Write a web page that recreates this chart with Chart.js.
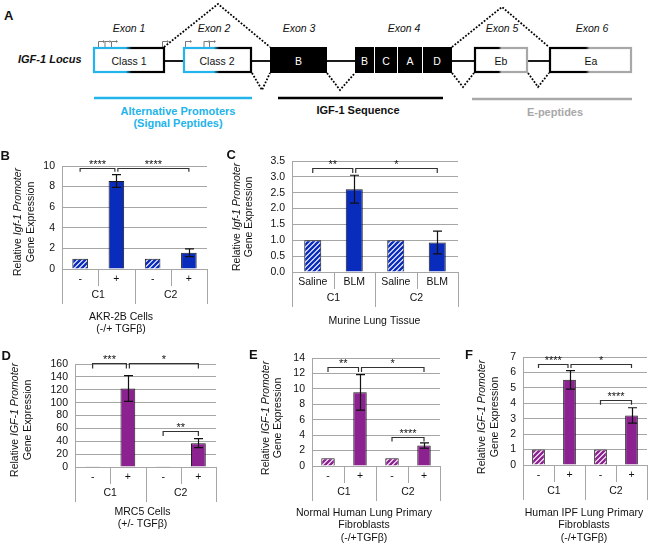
<!DOCTYPE html>
<html><head><meta charset="utf-8">
<script src="https://cdn.jsdelivr.net/npm/chart.js@4/dist/chart.umd.min.js"></script>
<style>
body{margin:0;background:#fff;width:650px;height:547px;overflow:hidden;position:relative;}
canvas{position:absolute;left:0;top:0;}
svg{position:absolute;left:0;top:0;}
</style></head><body>
<svg width="650" height="140" xmlns="http://www.w3.org/2000/svg" font-family="Liberation Sans, Arial, sans-serif">
<defs>
 <linearGradient id="gc1" x1="0" y1="0" x2="1" y2="0"><stop offset="0.45" stop-color="#22b4ea"/><stop offset="0.54" stop-color="#000"/></linearGradient>
 <linearGradient id="gc2" x1="0" y1="0" x2="1" y2="0"><stop offset="0.44" stop-color="#22b4ea"/><stop offset="0.53" stop-color="#000"/></linearGradient>
 <linearGradient id="gg5" x1="0" y1="0" x2="1" y2="0"><stop offset="0.45" stop-color="#000"/><stop offset="0.51" stop-color="#a8a8a8"/></linearGradient>
 <linearGradient id="gg6" x1="0" y1="0" x2="1" y2="0"><stop offset="0.44" stop-color="#000"/><stop offset="0.49" stop-color="#a8a8a8"/></linearGradient>
</defs>
<text x="4" y="20" font-weight="bold" font-size="13" fill="#111">A</text>
<text x="18" y="63" font-weight="bold" font-style="italic" font-size="11" fill="#111">IGF-1 Locus</text>
<g font-style="italic" font-size="10.5" fill="#111" text-anchor="middle">
 <text x="129" y="32">Exon 1</text><text x="214" y="32">Exon 2</text><text x="299" y="32">Exon 3</text>
 <text x="404" y="32">Exon 4</text><text x="502" y="32">Exon 5</text><text x="592" y="32">Exon 6</text>
</g>
<g stroke="#000" stroke-width="1.8">
 <line x1="165" y1="61" x2="183" y2="61"/><line x1="252" y1="61" x2="270" y2="61"/>
 <line x1="327" y1="61" x2="355" y2="61"/><line x1="452" y1="61" x2="474" y2="61"/>
 <line x1="528" y1="61" x2="549" y2="61"/>
</g>
<g fill="none" stroke="#000" stroke-width="1.8" stroke-dasharray="1.8 1.6">
 <polyline points="164,47 218,4 270,47"/>
 <polyline points="252,73 262,90 270,73"/>
 <polyline points="327,73 340,90 355,73"/>
 <polyline points="452,73 463,87 474,73"/>
 <polyline points="452,47 502,7 549,47"/>
 <polyline points="528,73 538,87 549,73"/>
</g>
<g stroke="#777" stroke-width="1" fill="none">
 <path d="M98.5 47V41.5H103"/><path d="M105 47V41.5H109.5"/><path d="M111.5 47V41.5H116"/><path d="M162.5 47V41.5H167"/>
 <path d="M185.5 47V41.5H190"/><path d="M204 47V41.5H208.5"/><path d="M209.5 47V41.5H214"/>
</g>
<g fill="#777">
 <path d="M103 40L105 41.5L103 43Z"/><path d="M109.5 40L111.5 41.5L109.5 43Z"/><path d="M116 40L118 41.5L116 43Z"/><path d="M167 40L169 41.5L167 43Z"/>
 <path d="M190 40L192 41.5L190 43Z"/><path d="M208.5 40L210.5 41.5L208.5 43Z"/><path d="M214 40L216 41.5L214 43Z"/>
</g>
<rect x="94" y="48" width="70" height="24" fill="#fff" stroke="url(#gc1)" stroke-width="2.2"/>
<rect x="184" y="48" width="67" height="24" fill="#fff" stroke="url(#gc2)" stroke-width="2.2"/>
<rect x="270" y="47" width="57" height="26" fill="#000"/>
<rect x="355" y="47" width="97" height="26" fill="#000"/>
<g stroke="#fff" stroke-width="1"><line x1="374.5" y1="47" x2="374.5" y2="73"/><line x1="397.5" y1="47" x2="397.5" y2="73"/><line x1="422.5" y1="47" x2="422.5" y2="73"/></g>
<rect x="475" y="48" width="52" height="24" fill="#fff" stroke="url(#gg5)" stroke-width="2.2"/>
<rect x="550" y="48" width="81" height="24" fill="#fff" stroke="url(#gg6)" stroke-width="2.2"/>
<g font-size="10.5" text-anchor="middle">
 <text x="129" y="65" fill="#111">Class 1</text><text x="217" y="65" fill="#111">Class 2</text>
 <text x="298.5" y="65" fill="#fff">B</text>
 <text x="364.5" y="65" fill="#fff">B</text><text x="386" y="65" fill="#fff">C</text><text x="410" y="65" fill="#fff">A</text><text x="437" y="65" fill="#fff">D</text>
 <text x="501" y="65" fill="#111">Eb</text><text x="591" y="65" fill="#111">Ea</text>
</g>
<line x1="94" y1="98" x2="252" y2="98" stroke="#22b4ea" stroke-width="2.5"/>
<line x1="278" y1="98" x2="443" y2="98" stroke="#000" stroke-width="2.5"/>
<line x1="472" y1="99" x2="632" y2="99" stroke="#a8a8a8" stroke-width="2.5"/>
<g font-weight="bold" font-size="11" text-anchor="middle">
 <text x="178" y="115" fill="#22b4ea">Alternative Promoters</text>
 <text x="178" y="127" fill="#22b4ea">(Signal Peptides)</text>
 <text x="358" y="113.5" fill="#111">IGF-1 Sequence</text>
 <text x="555" y="116" fill="#a8a8a8">E-peptides</text>
</g>
</svg>
<canvas id="cB" width="650" height="547"></canvas>
<canvas id="cC" width="650" height="547"></canvas>
<canvas id="cD" width="650" height="547"></canvas>
<canvas id="cE" width="650" height="547"></canvas>
<canvas id="cF" width="650" height="547"></canvas>
<script>
// ---------- DATA ----------
const CATS_TGF = ['-', '+', '-', '+'];
const CATS_BLM = ['Saline', 'BLM', 'Saline', 'BLM'];
const GROUPS = ['C1', 'C2'];
const HATCHED = [true, false, true, false];

const VAL_B = [1.0, 8.55, 1.0, 1.58];
const ERR_B = [0, 0.62, 0, 0.37];
const SIG_B = [[0, 1, 9.85, 9.45, '****'], [1, 3, 9.85, 9.45, '****']];
const AXIS_B = {max: 10, step: 2, dec: 0};

const VAL_C = [1.0, 2.61, 1.0, 0.93];
const ERR_C = [0, 0.44, 0, 0.36];
const SIG_C = [[0, 1, 3.28, 3.12, '**'], [1, 3, 3.28, 3.12, '*']];
const AXIS_C = {max: 3.5, step: 0.5, dec: 1};

const VAL_D = [1, 122, 1, 37];
const ERR_D = [0, 20, 0, 7];
const SIG_D = [[0, 1, 161, 153, '***'], [1, 3, 161, 153, '*'], [2, 3, 56.5, 48, '**']];
const AXIS_D = {max: 160, step: 20, dec: 0};

const VAL_E = [1.0, 9.55, 1.0, 2.65];
const ERR_E = [0, 2.3, 0, 0.35];
const SIG_E = [[0, 1, 12.85, 12.2, '**'], [1, 3, 12.85, 12.2, '*'], [2, 3, 3.73, 3.17, '****']];
const AXIS_E = {max: 14, step: 2, dec: 0};

const VAL_F = [1.0, 5.52, 1.0, 3.21];
const ERR_F = [0, 0.6, 0, 0.5];
const SIG_F = [[0, 1, 6.57, 6.29, '****'], [1, 3, 6.57, 6.29, '*'], [2, 3, 4.19, 3.9, '****']];
const AXIS_F = {max: 7, step: 1, dec: 0};

const YT_MOUSE = [['Relative ', false], ['Igf-1 Promoter', true]];
const YT_HUMAN = [['Relative ', false], ['IGF-1 Promoter', true]];
const YT_2 = [['Gene Expression', false]];

// ---------- STYLE / LAYOUT ----------
const FF = "'Liberation Sans', Arial, sans-serif";
const BLUE = '#0a2cbd';
const PURPLE = '#8b2290';
const GRID = '#a6a6a6';
const TXT = '#111';

function hatch(color) {
  const s = 5;
  const c = document.createElement('canvas'); c.width = s; c.height = s;
  const x = c.getContext('2d');
  x.fillStyle = '#fff'; x.fillRect(0, 0, s, s);
  x.strokeStyle = color; x.lineWidth = 2.4; x.lineCap = 'square';
  x.beginPath();
  x.moveTo(-1, s + 1); x.lineTo(s + 1, -1);
  x.moveTo(-1, 1); x.lineTo(1, -1);
  x.moveTo(s - 1, s + 1); x.lineTo(s + 1, s - 1);
  x.stroke();
  return x.createPattern(c, 'repeat');
}

function rich(ctx, segs, x, y, size) {
  let w = 0;
  segs.forEach(s => { ctx.font = (s[1] ? 'italic ' : '') + size + 'px ' + FF; w += ctx.measureText(s[0]).width; });
  let cx = x - w / 2;
  ctx.textAlign = 'left';
  segs.forEach(s => { ctx.font = (s[1] ? 'italic ' : '') + size + 'px ' + FF; ctx.fillText(s[0], cx, y); cx += ctx.measureText(s[0]).width; });
}

function makeChart(id, d, L) {
  const cv = document.getElementById(id);
  const YW = 40;
  const fills = HATCHED.map(h => h ? hatch(d.color) : d.color);
  const deco = {
    id: 'deco_' + id,
    afterDraw(chart) {
      const ctx = chart.ctx, xs = chart.scales.x, ys = chart.scales.y, a = chart.chartArea;
      const px = i => xs.getPixelForValue(i);
      const py = v => ys.getPixelForValue(v);
      ctx.save();
      // error bars
      ctx.strokeStyle = '#111'; ctx.lineWidth = 1.2;
      d.vals.forEach((v, i) => {
        if (!d.err[i]) return;
        const x = Math.round(px(i)) + 0.5, y1 = py(v + d.err[i]), y2 = py(v - d.err[i]);
        ctx.beginPath();
        ctx.moveTo(x, y1); ctx.lineTo(x, y2);
        ctx.moveTo(x - 4.5, y1); ctx.lineTo(x + 4.5, y1);
        ctx.moveTo(x - 4.5, y2); ctx.lineTo(x + 4.5, y2);
        ctx.stroke();
      });
      // brackets
      ctx.strokeStyle = '#333'; ctx.lineWidth = 1.2; ctx.fillStyle = TXT;
      d.sig.forEach(b => {
        const sharedL = d.sig.some(o => o !== b && o[1] === b[0]);
        const sharedR = d.sig.some(o => o !== b && o[0] === b[1]);
        const x1 = px(b[0]) + (sharedL ? 1.5 : 0), x2 = px(b[1]) - (sharedR ? 1.5 : 0);
        const y = Math.round(py(b[2])) + 0.5, ye = py(b[3]);
        ctx.beginPath();
        ctx.moveTo(x1, ye); ctx.lineTo(x1, y); ctx.lineTo(x2, y); ctx.lineTo(x2, ye);
        ctx.stroke();
        ctx.font = '11px ' + FF; ctx.textAlign = 'center'; ctx.textBaseline = 'alphabetic';
        ctx.fillText(b[4], (x1 + x2) / 2, y - 0.3);
      });
      // category axis (two levels)
      ctx.strokeStyle = GRID; ctx.lineWidth = 1;
      const bounds = [a.left, (px(0) + px(1)) / 2, (px(1) + px(2)) / 2, (px(2) + px(3)) / 2, a.right];
      bounds.forEach((bx, k) => {
        const x = Math.round(bx) + 0.5;
        ctx.beginPath(); ctx.moveTo(x, a.bottom); ctx.lineTo(x, a.bottom + (k % 2 === 0 ? 35 : 17)); ctx.stroke();
      });
      ctx.fillStyle = TXT; ctx.font = '10.5px ' + FF; ctx.textAlign = 'center'; ctx.textBaseline = 'middle';
      d.cats.forEach((c, i) => ctx.fillText(c, px(i), a.bottom + 10.5));
      GROUPS.forEach((g, j) => ctx.fillText(g, (px(2 * j) + px(2 * j + 1)) / 2, a.bottom + 26.5));
      // chart title lines
      d.title.forEach((t, j) => ctx.fillText(t, L.titleX, L.titleY[j]));
      // y-axis title (rotated)
      ctx.save();
      ctx.textBaseline = 'middle';
      ctx.translate(L.yTitleX[0], L.yTitleY); ctx.rotate(-Math.PI / 2);
      rich(ctx, d.ytitle, 0, 0, 10.5);
      ctx.restore();
      ctx.save();
      ctx.textBaseline = 'middle';
      ctx.translate(L.yTitleX[1], L.yTitleY); ctx.rotate(-Math.PI / 2);
      rich(ctx, YT_2, 0, 0, 10.5);
      ctx.restore();
      // panel letter
      ctx.font = 'bold 13px ' + FF; ctx.textAlign = 'left'; ctx.textBaseline = 'alphabetic';
      ctx.fillText(L.letter, L.letterXY[0], L.letterXY[1]);
      ctx.restore();
    }
  };
  new Chart(cv, {
    type: 'bar',
    data: {labels: d.cats, datasets: [{data: d.vals, backgroundColor: fills, borderColor: '#1a1a1a', borderWidth: 1,
      barPercentage: L.bp, categoryPercentage: 1}]},
    options: {
      responsive: false, animation: false, events: [],
      layout: {padding: {left: L.area[0] - YW, top: L.area[1], right: 650 - L.area[2], bottom: 547 - L.area[3]}},
      plugins: {legend: {display: false}, tooltip: {enabled: false}, title: {display: false}},
      scales: {
        x: {display: false, offset: true},
        y: {min: 0, max: d.axis.max,
          afterFit: s => { s.width = YW; },
          ticks: {stepSize: d.axis.step, autoSkip: false, maxTicksLimit: 100, padding: 7, color: TXT, font: {family: FF, size: 10.5},
            callback: v => Number(v).toFixed(d.axis.dec)},
          grid: {color: GRID, lineWidth: 1, drawTicks: false},
          border: {display: true, color: GRID, width: 1}}
      }
    },
    plugins: [deco]
  });
}

makeChart('cB', {cats: CATS_TGF, vals: VAL_B, err: ERR_B, sig: SIG_B, axis: AXIS_B, color: BLUE,
  title: ['AKR-2B Cells', '(-/+ TGFβ)'], ytitle: YT_MOUSE},
  {area: [62, 166, 207, 269], bp: 0.43, yTitleX: [18.5, 31], yTitleY: 222, titleX: 121, titleY: [317, 329], letter: 'B', letterXY: [0.5, 159.5]});
makeChart('cC', {cats: CATS_BLM, vals: VAL_C, err: ERR_C, sig: SIG_C, axis: AXIS_C, color: BLUE,
  title: ['Murine Lung Tissue'], ytitle: YT_MOUSE},
  {area: [292, 161, 458, 272], bp: 0.41, yTitleX: [237.5, 249.5], yTitleY: 217, titleX: 374.5, titleY: [321], letter: 'C', letterXY: [226.5, 159]});
makeChart('cD', {cats: CATS_TGF, vals: VAL_D, err: ERR_D, sig: SIG_D, axis: AXIS_D, color: PURPLE,
  title: ['MRC5 Cells', '(+/- TGFβ)'], ytitle: YT_HUMAN},
  {area: [75, 364, 216, 467], bp: 0.42, yTitleX: [15, 28], yTitleY: 420, titleX: 142.5, titleY: [512.5, 524], letter: 'D', letterXY: [1.5, 360]});
makeChart('cE', {cats: CATS_TGF, vals: VAL_E, err: ERR_E, sig: SIG_E, axis: AXIS_E, color: PURPLE,
  title: ['Normal Human Lung Primary', 'Fibroblasts', '(-/+TGFβ)'], ytitle: YT_HUMAN},
  {area: [312, 358, 440, 466], bp: 0.42, yTitleX: [266, 278.5], yTitleY: 418, titleX: 364, titleY: [513, 525.5, 538], letter: 'E', letterXY: [249, 359]});
makeChart('cF', {cats: CATS_TGF, vals: VAL_F, err: ERR_F, sig: SIG_F, axis: AXIS_F, color: PURPLE,
  title: ['Human IPF Lung Primary', 'Fibroblasts', '(-/+TGFβ)'], ytitle: YT_HUMAN},
  {area: [523, 357, 647, 465], bp: 0.41, yTitleX: [482.5, 495], yTitleY: 417, titleX: 584, titleY: [513, 525.5, 538], letter: 'F', letterXY: [465, 359]});
</script>
</body></html>
